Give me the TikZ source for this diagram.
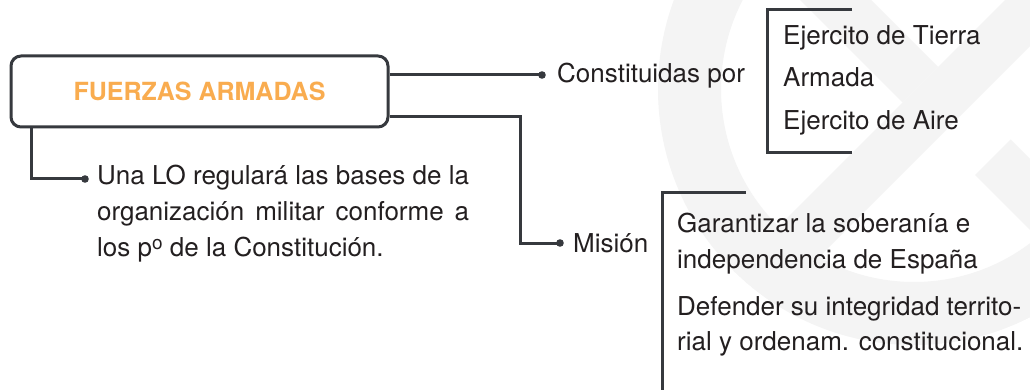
\documentclass[tikz,border=0pt]{standalone}
\usepackage{fontspec}
\setmainfont{TeX Gyre Heros}
\definecolor{lnc}{RGB}{54,57,62}
\definecolor{txc}{RGB}{35,31,32}
\definecolor{orc}{RGB}{249,172,79}
\definecolor{wmc}{RGB}{244,244,244}
\tikzset{
  conn/.style={draw=lnc, line width=3pt, line cap=butt, line join=miter},
  fabox/.style={draw=lnc, line width=3pt, rounded corners=10pt, minimum width=377pt, minimum height=71pt, inner sep=0pt, text=orc, font=\fontsize{25}{30}\selectfont\bfseries},
  txt/.style={inner sep=0pt, text=txc, font=\fontsize{26}{36}\selectfont, anchor=base west},
  dotc/.style={fill=lnc}
}
\begin{document}
\begin{tikzpicture}[x=1pt,y=-1pt]
\useasboundingbox (0,0) rectangle (1030,390);
\fill[white] (0,0) rectangle (1030,390);
% watermark
\begin{scope}
\clip (0,0) rectangle (1030,390);
\clip (914,89) circle (256);
\fill[wmc, even odd rule] (914,89) circle (256) (914,89) circle (193);
\fill[wmc] (605,400) -- (1205,-200) -- (1276,-200) -- (676,400) -- cycle;
\fill[wmc] (500,-300) -- (571,-300) -- (938,67) -- (902.5,102.5) -- cycle;
\fill[wmc] (975,175) -- (1010.5,139.5) -- (1371,500) -- (1300,500) -- cycle;
\end{scope}
% main box
\node[fabox] (fa) at (199.5,91.5) {FUERZAS ARMADAS};
% texts
\node[txt] (cp) at (557,83) {Constituidas por};
\node[txt] (mi) at (573,252) {Misión};
\node[txt] (et) at (783,45) {Ejercito de Tierra};
\node[txt] (ar) at (783,87) {Armada};
\node[txt] (ea) at (783,130) {Ejercito de Aire};
\node[txt] (g1) at (677,233) {Garantizar la soberanía e};
\node[txt] (g2) at (677,268) {independencia de España};
\node[txt] (d1) at (677,315) {Defender su integridad territo-};
\node[txt] (d2) at (677,350) {rial y ordenam. constitucional.};
\node[txt, anchor=north west] (lo) at (97,165) {\parbox[t]{372pt}{\fontsize{26}{36}\selectfont\raggedright\rightskip=0pt\parfillskip=0pt plus 1fil Una LO regulará las bases de la\linebreak organización militar conforme a\linebreak los p\raisebox{0.55ex}{\fontsize{19}{19}\selectfont o} de la Constitución.}};
% dots
\coordinate (p1) at (542,75);
\coordinate (p2) at (560,243);
\coordinate (p3) at (85,179);
% connectors
\draw[conn] (fa.east |- p1) -- (p1);
\draw[conn] (fa.east |- 0,117) -- (520,117) -- (520,243) -- (p2);
\draw[conn] (fa.south west -| 31,0) -- (31,179) -- (p3);
\fill[dotc] (p1) circle (3.8);
\fill[dotc] (p2) circle (3.8);
\fill[dotc] (p3) circle (3.8);
% brackets
\coordinate (b1a) at (852,10);
\coordinate (b1b) at (767,10);
\coordinate (b1c) at (767,153);
\coordinate (b1d) at (852,153);
\draw[conn] (b1a) -- (b1b) -- (b1c) -- (b1d);
\coordinate (b2a) at (746,193);
\coordinate (b2b) at (662,193);
\coordinate (b2c) at (662,392);
\draw[conn] (b2a) -- (b2b) -- (b2c);
\end{tikzpicture}
\end{document}
